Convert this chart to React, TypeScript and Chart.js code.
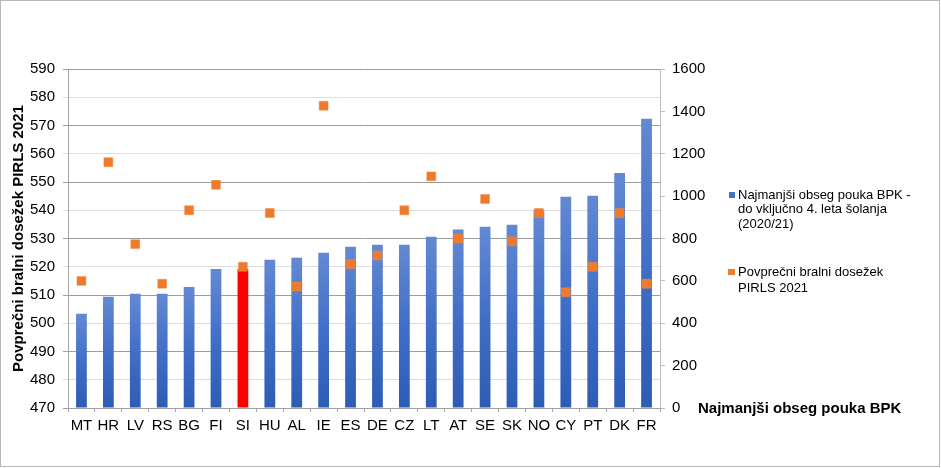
import React, { useEffect, useRef } from "react";
import { Chart, registerables } from "chart.js";

Chart.register(...registerables);

// Countries on the category axis
const countries = [
  "MT", "HR", "LV", "RS", "BG", "FI", "SI", "HU", "AL", "IE", "ES",
  "DE", "CZ", "LT", "AT", "SE", "SK", "NO", "CY", "PT", "DK", "FR",
];

// Minimum instruction time for reading/writing (hours), up to and incl. grade 4 (2020/21)
const minHours = [
  445, 525, 539, 539, 571, 656, 656, 700, 709, 733, 761,
  771, 771, 808, 842, 856, 865, 933, 997, 1002, 1109, 1365,
];

// Average PIRLS 2021 reading score
const pirlsScore = [
  515, 557, 528, 514, 540, 549, 520, 539, 513, 577, 521,
  524, 540, 552, 530, 544, 529, 539, 511, 520, 539, 514,
];

const highlightCountry = "SI";

const FONT = "'Liberation Sans', Arial, Helvetica, sans-serif";

export default function App() {
  const canvasRef = useRef<HTMLCanvasElement | null>(null);

  useEffect(() => {
    const canvas = canvasRef.current;
    if (!canvas) return;

    const barFill = (ctx: any) => {
      const chart = ctx.chart;
      const i = ctx.dataIndex;
      if (countries[i] === highlightCountry) return "#ff0000";
      const scale = chart.scales && chart.scales.y1;
      if (!scale || i === undefined) return "#4472c4";
      const top = scale.getPixelForValue(minHours[i]);
      const bottom = scale.getPixelForValue(0);
      if (!isFinite(top) || !isFinite(bottom) || top === bottom) return "#4472c4";
      const g = chart.ctx.createLinearGradient(0, top, 0, bottom);
      g.addColorStop(0, "#6389d2");
      g.addColorStop(0.5, "#416fc8");
      g.addColorStop(1, "#2d5cb5");
      return g;
    };

    const chart = new Chart(canvas, {
      data: {
        labels: countries,
        datasets: [
          {
            type: "line",
            label: "Povprečni bralni dosežek PIRLS 2021",
            data: pirlsScore,
            yAxisID: "y",
            showLine: false,
            pointStyle: "rect",
            pointRadius: 6.3,
            pointHoverRadius: 6.3,
            pointBackgroundColor: "#ef7a2c",
            pointBorderColor: "#f08a45",
            pointBorderWidth: 0.5,
            order: 0,
          },
          {
            type: "bar",
            label: "Najmanjši obseg pouka BPK - do vključno 4. leta šolanja (2020/21)",
            data: minHours,
            yAxisID: "y1",
            backgroundColor: barFill,
            borderWidth: 0,
            categoryPercentage: 1,
            barPercentage: 0.4,
            order: 1,
          },
        ],
      },
      options: {
        animation: false,
        responsive: true,
        maintainAspectRatio: false,
        layout: { padding: { top: 69, left: 0, right: 0, bottom: 0 } },
        plugins: {
          legend: { display: false },
          tooltip: { enabled: false },
        },
        scales: {
          x: {
            offset: true,
            grid: {
              offset: true,
              drawOnChartArea: false,
              drawTicks: true,
              tickLength: 4,
              color: "#a6a6a6",
            },
            border: { display: true, color: "#a0a0a0" },
            ticks: {
              color: "#000",
              padding: 5,
              maxRotation: 0,
              autoSkip: false,
              font: { family: FONT, size: 15 },
            },
            afterFit: (scale: any) => {
              scale.height = 60;
            },
          },
          y: {
            position: "left",
            min: 470,
            max: 590,
            ticks: {
              stepSize: 10,
              color: "#000",
              padding: 8,
              font: { family: FONT, size: 15 },
            },
            grid: {
              tickLength: 5,
              color: (ctx: any) =>
                ctx.tick && ctx.tick.value % 20 === 10 ? "#9c9c9c" : "#dedede",
            },
            border: { display: true, color: "#a6a6a6" },
            title: {
              display: true,
              text: "Povprečni bralni dosežek PIRLS 2021",
              color: "#000",
              padding: { top: 10, bottom: 0 },
              font: { family: FONT, size: 15, weight: "bold" },
            },
            afterFit: (scale: any) => {
              scale.width = 68;
            },
          },
          y1: {
            position: "right",
            min: 0,
            max: 1600,
            ticks: {
              stepSize: 200,
              color: "#000",
              padding: 7,
              font: { family: FONT, size: 15 },
              callback: (value: any) => String(value),
            },
            grid: {
              drawOnChartArea: false,
              tickLength: 5,
              color: "#bdbdbd",
            },
            border: { display: true, color: "#bdbdbd" },
            afterFit: (scale: any) => {
              scale.width = 281;
            },
          },
        },
      },
    } as any);

    return () => {
      chart.destroy();
    };
  }, []);

  const legendText: React.CSSProperties = {
    position: "absolute",
    left: 738,
    fontFamily: FONT,
    fontSize: 13,
    color: "#000",
    whiteSpace: "nowrap",
  };

  return (
    <div
      style={{
        position: "absolute",
        left: 0,
        top: 0,
        width: 941,
        height: 468,
        background: "#fff",
      }}
    >
      <div style={{ position: "absolute", left: 0, top: 0, width: 941, height: 468 }}>
        <canvas ref={canvasRef} />
      </div>
      <div
        style={{
          position: "absolute",
          left: 0,
          top: 0,
          width: 940,
          height: 467,
          boxSizing: "border-box",
          border: "1px solid #b8b8b8",
          pointerEvents: "none",
        }}
      />
      <div
        style={{
          position: "absolute",
          left: 729,
          top: 192,
          width: 6,
          height: 6,
          background: "#4472c4",
        }}
      />
      <div style={{ ...legendText, top: 187.8, lineHeight: "14.4px" }}>
        Najmanjši obseg pouka BPK -
        <br />
        do vključno 4. leta šolanja
        <br />
        (2020/21)
      </div>
      <div
        style={{
          position: "absolute",
          left: 728,
          top: 268.5,
          width: 6.5,
          height: 6.5,
          background: "#ed7d31",
        }}
      />
      <div style={{ ...legendText, top: 264, lineHeight: "15.6px" }}>
        Povprečni bralni dosežek
        <br />
        PIRLS 2021
      </div>
      <div
        style={{
          position: "absolute",
          left: 698,
          top: 399,
          fontFamily: FONT,
          fontSize: 15,
          fontWeight: "bold",
          lineHeight: "18px",
          color: "#000",
          whiteSpace: "nowrap",
        }}
      >
        Najmanjši obseg pouka BPK
      </div>
    </div>
  );
}
